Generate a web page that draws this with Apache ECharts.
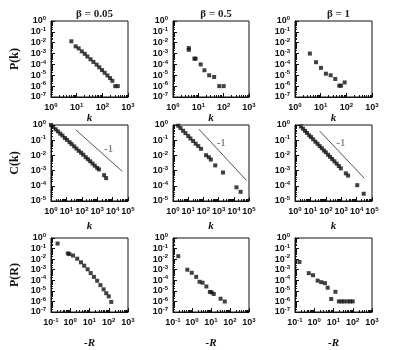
<!DOCTYPE html>
<html><head><meta charset="utf-8">
<script src="https://cdn.jsdelivr.net/npm/echarts@6/dist/echarts.min.js"></script>
<style>html,body{margin:0;padding:0;background:#fff}#c{width:394px;height:350px}</style>
</head><body><div id="c"></div>
<script>
// ---- labels ----
const columnTitles = ['β = 0.05', 'β = 0.5', 'β = 1'];
const rowYNames = ['P(k)', 'C(k)', 'P(R)'];
const rowXNames = ['k', 'k', '-R'];
const rowXRange = [[1, 1000], [1, 100000], [0.1, 1000]];
const rowYRange = [[1e-7, 1], [1e-5, 1], [1e-7, 1]];

// ---- row 1: P(k) ----
const pkB005K = [6.2, 9.1, 12, 15.8, 20.7, 26, 34.6, 45, 60, 76, 97, 123, 158, 200, 246, 316, 400];
const pkB005P = [1.35e-2, 4.6e-3, 3.0e-3, 1.6e-3, 9.5e-4, 5.4e-4, 3.0e-4, 1.7e-4, 9.5e-5, 5.4e-5, 3.0e-5, 1.7e-5, 9.6e-6, 5.5e-6, 3.1e-6, 1.0e-6, 1.0e-6];
const pkB05K = [4.2, 4.2, 7.0, 7.8, 12.4, 17.4, 26.8, 42, 67, 100];
const pkB05P = [3.2e-3, 2.2e-3, 3.4e-4, 3.4e-4, 1.0e-4, 2.9e-5, 1.0e-5, 7.0e-6, 1.0e-6, 1.0e-6];
const pkB1K = [3.8, 6.6, 10.3, 16, 24.5, 37, 53, 62, 86];
const pkB1P = [1.0e-3, 1.6e-4, 4.8e-5, 1.4e-5, 1.0e-5, 4.6e-6, 1.1e-6, 1.1e-6, 2.2e-6];

// ---- row 2: C(k) ----
const ckB005K = [1, 1.4, 2, 2.8, 4, 5.6, 8, 11, 16, 22, 32, 45, 63, 90, 125, 180, 250, 350, 500, 700, 1000, 1300, 2800, 3800];
const ckB005C = [1, 0.73, 0.52, 0.38, 0.27, 0.2, 0.14, 0.105, 0.074, 0.055, 0.039, 0.028, 0.02, 0.015, 0.011, 0.0076, 0.0056, 0.0041, 0.0029, 0.0021, 0.0015, 0.0012, 5e-4, 3.2e-4];
const ckB05K = [2.2, 3.1, 4.6, 6.6, 10, 14, 21, 31, 46, 70, 150, 228, 310, 600, 1950, 15000, 28000];
const ckB05C = [0.9, 0.63, 0.42, 0.29, 0.19, 0.13, 0.089, 0.059, 0.041, 0.027, 0.0103, 0.0076, 0.0053, 0.0022, 7.5e-4, 7.9e-5, 4e-5];
const ckB1K = [2.4, 3.3, 4.5, 6, 8.3, 11, 15, 21, 29, 40, 55, 75, 100, 140, 190, 260, 360, 500, 700, 950, 2000, 2800, 11000, 29000];
const ckB1C = [0.8, 0.57, 0.41, 0.3, 0.21, 0.16, 0.115, 0.08, 0.058, 0.041, 0.03, 0.021, 0.016, 0.011, 0.008, 0.0058, 0.0041, 0.0029, 0.002, 0.0014, 6.6e-4, 4.7e-4, 1.1e-4, 3e-5];
// slope -1 guide lines (endpoints) and their label spots
const guideB005 = [[40, 0.49], [42600, 8.9e-4]];
const guideB05 = [[50, 0.54], [70000, 2.2e-4]];
const guideB1 = [[40, 0.4], [32000, 3.1e-4]];
const guideLabelPos = [[5500, 0.025], [1500, 0.069], [950, 0.066]];
const guideLabel = '-1';

// ---- row 3: P(R) ----
const prB005R = [0.22, 0.75, 0.9, 1.4, 2.3, 3.6, 5.3, 8, 11.5, 17, 25, 37, 54, 74, 100, 135];
const prB005P = [0.3, 0.035, 0.03, 0.022, 0.011, 5e-3, 2.4e-3, 1.1e-3, 4.8e-4, 2.1e-4, 9e-5, 3.5e-5, 1.4e-5, 6e-6, 3e-6, 9e-7];
const prB05R = [0.19, 0.57, 0.97, 1.66, 2.5, 3.6, 5.7, 8.7, 10.7, 14, 32, 53];
const prB05P = [0.019, 1.0e-3, 5.1e-4, 2.1e-4, 7.2e-5, 5.9e-5, 2.6e-5, 7.9e-6, 7.3e-6, 5.1e-6, 1.8e-6, 9.8e-7];
const prB1R = [0.17, 0.52, 0.86, 1.5, 2.3, 3.6, 5, 7.6, 12.6, 19, 26, 35, 53, 74, 100];
const prB1P = [5.4e-3, 4.7e-4, 3e-4, 9.3e-5, 6.6e-5, 5.4e-5, 2e-5, 1.7e-6, 8.1e-6, 1e-6, 1e-6, 1e-6, 1e-6, 1e-6, 1e-6];

const panelData = [
  [pkB005K, pkB005P], [pkB05K, pkB05P], [pkB1K, pkB1P],
  [ckB005K, ckB005C], [ckB05K, ckB05C], [ckB1K, ckB1C],
  [prB005R, prB005P], [prB05R, prB05P], [prB1R, prB1P]
];
const guides = [guideB005, guideB05, guideB1];

// ---- layout ----
const cols = [{left: 51, width: 77}, {left: 173, width: 76}, {left: 295, width: 77}];
const rows = [{top: 21, height: 76}, {top: 125, height: 76}, {top: 238, height: 76}];
const xNameGap = [11, 20, 26];

const INK = '#111';
const tickFont = 'Liberation Sans';
const serif = 'Liberation Serif';

function powLabel(v) {
  const e = Math.round(Math.log10(v));
  return '{b|10}{s|' + e + '}';
}
const richTick = {
  b: {fontFamily: tickFont, fontWeight: 'bold', fontSize: 9, color: INK, lineHeight: 11},
  s: {fontFamily: tickFont, fontWeight: 'bold', fontSize: 6, color: INK, verticalAlign: 'top', lineHeight: 6}
};

// minor log ticks (2..9 x 10^n) drawn inside the bottom and left axes through the axis scales
function minorTickRenderer(xr, yr) {
  return function (params, api) {
    const children = [];
    const line = (x1, y1, x2, y2) => children.push({type: 'line',
      shape: {x1: x1, y1: y1, x2: x2, y2: y2}, style: {stroke: INK, lineWidth: 1}});
    for (let e = Math.floor(Math.log10(xr[0])); e < Math.log10(xr[1]); e++) {
      for (let m = 2; m <= 9; m++) {
        const v = m * Math.pow(10, e);
        if (v <= xr[0] || v >= xr[1]) continue;
        const p = api.coord([v, yr[0]]);
        const x = Math.round(p[0]) + 0.5;
        line(x, p[1], x, p[1] - 2);
      }
    }
    for (let e = Math.floor(Math.log10(yr[0])); e < Math.log10(yr[1]); e++) {
      for (let m = 2; m <= 9; m++) {
        const v = m * Math.pow(10, e);
        if (v <= yr[0] || v >= yr[1]) continue;
        const p = api.coord([xr[0], v]);
        const y = Math.round(p[1]) + 0.5;
        line(p[0], y, p[0] + 2, y);
      }
    }
    return {type: 'group', children: children};
  };
}

const grids = [], xAxes = [], yAxes = [], series = [], titles = [];
for (let r = 0; r < 3; r++) {
  for (let c = 0; c < 3; c++) {
    const i = r * 3 + c;
    grids.push({left: cols[c].left, width: cols[c].width, top: rows[r].top, height: rows[r].height,
      show: true, borderColor: INK, borderWidth: 1, backgroundColor: 'transparent'});
    xAxes.push({
      type: 'log', logBase: 10, gridIndex: i, min: rowXRange[r][0], max: rowXRange[r][1],
      name: rowXNames[r], nameLocation: 'middle', nameGap: xNameGap[r],
      nameTextStyle: {fontFamily: serif, fontStyle: 'italic', fontWeight: 'bold', fontSize: 11, color: INK},
      axisLine: {show: true, lineStyle: {color: INK, width: 1}},
      axisTick: {show: true, inside: true, length: 4, lineStyle: {color: INK}},
      minorTick: {show: false},
      splitLine: {show: false}, minorSplitLine: {show: false},
      axisLabel: {margin: 5, formatter: powLabel, rich: richTick, showMinLabel: true, showMaxLabel: true}
    });
    yAxes.push({
      type: 'log', logBase: 10, gridIndex: i, min: rowYRange[r][0], max: rowYRange[r][1],
      name: c === 0 ? rowYNames[r] : '', nameLocation: 'middle', nameGap: 30, nameRotate: 90,
      nameTextStyle: {fontFamily: serif, fontWeight: 'bold', fontSize: 12, color: INK},
      axisLine: {show: true, lineStyle: {color: INK, width: 1}},
      axisTick: {show: true, inside: true, length: 4, lineStyle: {color: INK}},
      minorTick: {show: false},
      splitLine: {show: false}, minorSplitLine: {show: false},
      axisLabel: {margin: 5, formatter: powLabel, rich: richTick, showMinLabel: true, showMaxLabel: true}
    });
    series.push({
      type: 'custom', xAxisIndex: i, yAxisIndex: i, data: [[rowXRange[r][0], rowYRange[r][0]]],
      renderItem: minorTickRenderer(rowXRange[r], rowYRange[r]), silent: true, animation: false, z: 1
    });
    const d = panelData[i];
    series.push({
      type: 'scatter', xAxisIndex: i, yAxisIndex: i, symbol: 'rect', symbolSize: 4,
      itemStyle: {color: INK}, silent: true, animation: false, z: 3,
      data: d[0].map((x, j) => [x, d[1][j]])
    });
    if (r === 1) {
      series.push({
        type: 'line', xAxisIndex: i, yAxisIndex: i, data: guides[c], symbol: 'none',
        lineStyle: {color: '#555', width: 1}, silent: true, animation: false
      });
      series.push({
        type: 'scatter', xAxisIndex: i, yAxisIndex: i, data: [guideLabelPos[c]], symbolSize: 0,
        label: {show: true, position: 'inside', formatter: guideLabel, fontFamily: serif, fontSize: 11, color: '#333'},
        silent: true, animation: false
      });
    }
  }
}
for (let c = 0; c < 3; c++) {
  titles.push({text: columnTitles[c], left: cols[c].left + cols[c].width / 2, top: 4, textAlign: 'center',
    textStyle: {fontFamily: serif, fontWeight: 'bold', fontSize: 11, color: '#222'}});
}

const chart = echarts.init(document.getElementById('c'), null, {renderer: 'canvas'});
chart.setOption({
  animation: false,
  backgroundColor: '#fff',
  title: titles,
  grid: grids,
  xAxis: xAxes,
  yAxis: yAxes,
  series: series
});
</script></body></html>
